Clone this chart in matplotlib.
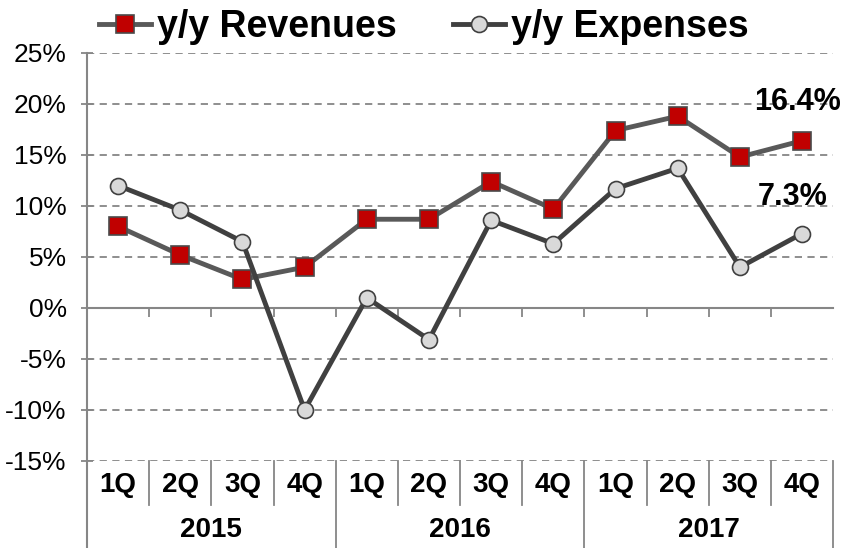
import matplotlib
matplotlib.use("Agg")
from matplotlib import pyplot as plt
from matplotlib.ticker import FuncFormatter, MultipleLocator
import matplotlib.transforms as mtransforms

plt.rcParams['font.family'] = ['Liberation Sans', 'DejaVu Sans']

years = ['2015', '2016', '2017']
quarters = ['1Q', '2Q', '3Q', '4Q'] * 3
revenues = [8.0, 5.2, 2.8, 4.0, 8.7, 8.7, 12.4, 9.7, 17.4, 18.8, 14.8, 16.4]
expenses = [12.0, 9.6, 6.5, -10.0, 1.0, -3.1, 8.6, 6.3, 11.7, 13.7, 4.0, 7.3]

axis_grey = '#868686'

fig = plt.figure(figsize=(8.47, 5.48), dpi=100)
ax = fig.add_axes([0.1027, 0.1588, 0.881, 0.7445])

x = list(range(len(quarters)))
ax.plot(x, revenues, color='#595959', lw=3.5, marker='s', ms=13,
        mfc='#C00000', mec='#4a4a4a', mew=1.2, label='y/y Revenues', zorder=3)
ax.plot(x, expenses, color='#404040', lw=3.5, marker='o', ms=11.5,
        mfc='#D9D9D9', mec='#404040', mew=1.2, label='y/y Expenses', zorder=4)

ax.set_xlim(-0.5, len(quarters) - 0.5)
ax.set_ylim(-15, 25)
ax.yaxis.set_major_locator(MultipleLocator(5))
ax.yaxis.set_major_formatter(FuncFormatter(lambda v, p: f'{v:.0f}%'))
ax.grid(axis='y', color=axis_grey, linestyle=(0, (4, 3)), lw=1.3)
ax.set_axisbelow(True)

for s in ['top', 'right', 'left']:
    ax.spines[s].set_visible(False)
ax.spines['bottom'].set_position(('data', 0))
ax.spines['bottom'].set_color(axis_grey)
ax.spines['bottom'].set_linewidth(1.5)

ax.tick_params(axis='y', direction='inout', length=9, width=1.3, color=axis_grey,
               labelsize=19, pad=10)
ax.set_xticks([i + 0.5 for i in x[:-1]])
ax.set_xticklabels([])
ax.tick_params(axis='x', direction='out', length=6.5, width=1.3, color=axis_grey)

# left axis line running down through the category area
ax.plot([0, 0], [1, -0.22], transform=ax.transAxes, color=axis_grey, lw=1.5, clip_on=False)

trans = mtransforms.blended_transform_factory(ax.transData, ax.transAxes)
for i, q in enumerate(quarters):
    ax.text(i, -0.059, q, transform=trans, ha='center', va='center',
            fontsize=20, fontweight='bold')
    if i > 0 and i % 4 != 0:
        ax.plot([i - 0.5, i - 0.5], [0, -0.108], transform=trans,
                color=axis_grey, lw=1.3, clip_on=False)
for j, yr in enumerate(years):
    ax.text(j * 4 + 1.5, -0.17, yr, transform=trans, ha='center', va='center',
            fontsize=20, fontweight='bold')
    right = j * 4 + 3.5
    ax.plot([right, right], [0, -0.22], transform=trans,
            color=axis_grey, lw=1.3, clip_on=False)

ax.annotate(f'{revenues[-1]:.1f}%', (x[-1], revenues[-1]), xytext=(-3, 28),
            textcoords='offset points', ha='center', va='center',
            fontsize=22, fontweight='bold')
ax.annotate(f'{expenses[-1]:.1f}%', (x[-1], expenses[-1]), xytext=(-7, 26),
            textcoords='offset points', ha='center', va='center',
            fontsize=22, fontweight='bold')

fig.legend(loc='upper center', bbox_to_anchor=(0.5, 1.045), ncol=2, frameon=False,
           prop={'size': 27, 'weight': 'bold'}, handlelength=1.4,
           handletextpad=0.15, columnspacing=1.5)

fig.savefig('out.png', dpi=100)
